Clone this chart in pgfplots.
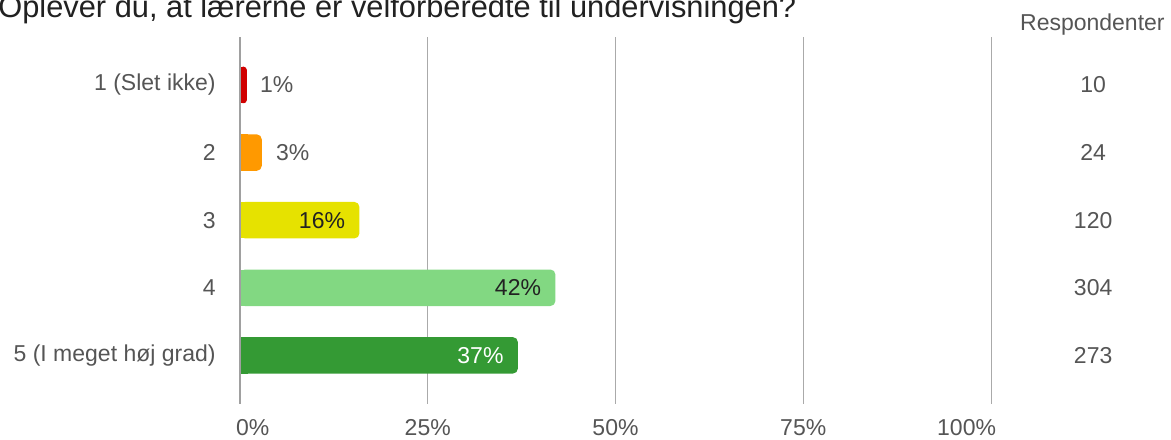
\documentclass[border=0pt]{standalone}
\usepackage{pgfplots}
\pgfplotsset{compat=1.18}
\usepackage{fontspec}
\setmainfont{Liberation Sans}
\definecolor{cRed}{RGB}{208,0,0}
\definecolor{cOrange}{RGB}{255,153,0}
\definecolor{cYellow}{RGB}{230,226,0}
\definecolor{cLight}{RGB}{130,216,130}
\definecolor{cDark}{RGB}{52,154,52}
\definecolor{txt}{RGB}{85,85,85}
\definecolor{dtxt}{RGB}{34,34,34}
\definecolor{gridc}{RGB}{170,170,170}
\definecolor{axisc}{RGB}{160,160,160}
\newcommand\lbl{\fontsize{11.5}{13}\selectfont}
\begin{document}
\begin{tikzpicture}
\node[anchor=base west, font=\fontsize{15.4}{17}\selectfont, text=black!87, inner sep=0pt] at (-1pt,-8.8pt) {Oplever du, at lærerne er velforberedte til undervisningen?};
\begin{axis}[
  at={(120pt,-202pt)}, anchor=south west,
  scale only axis, width=375.5pt, height=183.5pt,
  xmin=0, xmax=100, ymin=-0.71, ymax=4.72, y dir=reverse,
  xbar, bar width=0.54, bar shift=0pt,
  axis line style={draw=none},
  xtick={0,25,50,75,100},
  xticklabels={\makebox[0pt][l]{\hspace{-2pt}0\%},25\%,50\%,75\%,\makebox[0pt][r]{100\%\hspace{-2.5pt}}},
  ytick={0,1,2,3,4},
  yticklabels={1 (Slet ikke),2,3,4,5 (I meget høj grad)},
  major tick length=0pt,
  xmajorgrids, major grid style={draw=gridc, line width=0.5pt},
  tick label style={font=\lbl, text=txt},
  xticklabel style={anchor=base, yshift=-15.75pt, inner sep=0pt},
  yticklabel style={anchor=east, inner sep=0pt, xshift=-12pt},
  clip=false,
  every node near coord/.append style={font=\lbl, inner sep=0pt},
]
% square left ends (drawn first, covered by rounded bars)
\addplot[fill=cRed, draw=none, bar shift=0pt, x filter/.expression={x/2}] coordinates {(0.9,0)};
\addplot[fill=cOrange, draw=none, bar shift=0pt, x filter/.expression={min(x/2,1)}] coordinates {(2.9,1)};
\addplot[fill=cYellow, draw=none, bar shift=0pt, x filter/.expression={min(x/2,1)}] coordinates {(15.9,2)};
\addplot[fill=cLight, draw=none, bar shift=0pt, x filter/.expression={min(x/2,1)}] coordinates {(42.0,3)};
\addplot[fill=cDark, draw=none, bar shift=0pt, x filter/.expression={min(x/2,1)}] coordinates {(37.0,4)};
% rounded bars
\addplot[fill=cRed, draw=none, bar shift=0pt, rounded corners=1.5pt,
  nodes near coords={1\%}, nodes near coords style={anchor=west, xshift=6.5pt, text=txt}] coordinates {(0.9,0)};
\addplot[fill=cOrange, draw=none, bar shift=0pt, rounded corners=2.5pt,
  nodes near coords={3\%}, nodes near coords style={anchor=west, xshift=7pt, text=txt}] coordinates {(2.9,1)};
\addplot[fill=cYellow, draw=none, bar shift=0pt, rounded corners=2.5pt,
  nodes near coords={16\%}, nodes near coords style={anchor=east, xshift=-7pt, text=dtxt}] coordinates {(15.9,2)};
\addplot[fill=cLight, draw=none, bar shift=0pt, rounded corners=2.5pt,
  nodes near coords={42\%}, nodes near coords style={anchor=east, xshift=-7pt, text=dtxt}] coordinates {(42.0,3)};
\addplot[fill=cDark, draw=none, bar shift=0pt, rounded corners=2.5pt,
  nodes near coords={37\%}, nodes near coords style={anchor=east, xshift=-7pt, text=white}] coordinates {(37.0,4)};
\draw[draw=axisc, line width=1pt] (axis cs:0,-0.71) -- (axis cs:0,4.72);
% respondent column
\node[font=\lbl, text=txt] at (axis cs:113.5,-0.89) {Respondenter};
\node[font=\lbl, text=txt] at (axis cs:113.6,0) {10};
\node[font=\lbl, text=txt] at (axis cs:113.6,1) {24};
\node[font=\lbl, text=txt] at (axis cs:113.6,2) {120};
\node[font=\lbl, text=txt] at (axis cs:113.6,3) {304};
\node[font=\lbl, text=txt] at (axis cs:113.6,4) {273};
\end{axis}
\pgfresetboundingbox
\useasboundingbox (0,0) rectangle (585.5pt,-219.5pt);
\end{tikzpicture}
\end{document}
